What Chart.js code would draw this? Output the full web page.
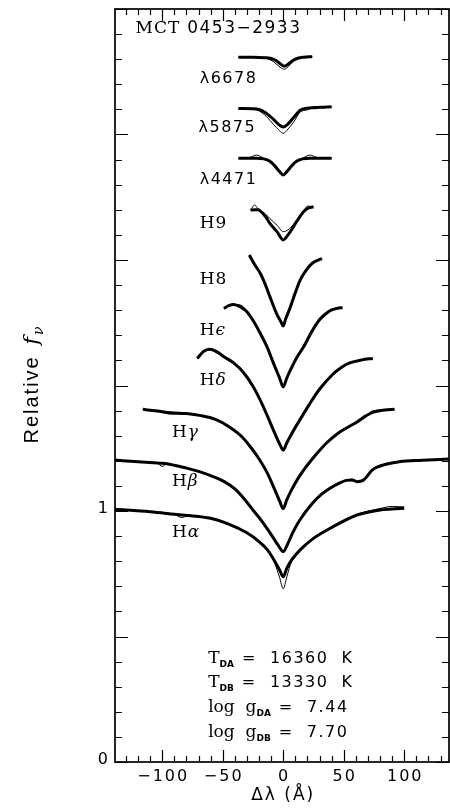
<!DOCTYPE html>
<html lang="en">
<head>
  <meta charset="utf-8">
  <title>MCT 0453-2933 line profiles</title>
  <script src="https://cdn.jsdelivr.net/npm/chart.js@4.4.0/dist/chart.umd.min.js"></script>
  <style>
    body { margin: 0; background: #fff; }
  </style>
</head>
<body>
<canvas id="myChart" width="450" height="808"></canvas>
<script>
// delta lambda (A) and relative flux (already shifted)
// fit = thick smooth model, obs = thin observed spectrum
var haX   = [-139, -110, -90, -84, -78, -60, -45, -30, -20, -13, -7, -3, 0, 3, 7, 14, 25, 41, 61, 80, 90, 100];
var haFit = [1.007, 0.997, 0.987, 0.984, 0.982, 0.971, 0.948, 0.913, 0.878, 0.845, 0.800, 0.765, 0.738, 0.772, 0.805, 0.845, 0.891, 0.937, 0.984, 1.004, 1.008, 1.011];
var haObs = [1.007, 0.997, 0.987, 0.974, 0.982, 0.971, 0.950, 0.913, 0.880, 0.845, 0.792, 0.735, 0.690, 0.738, 0.800, 0.845, 0.893, 0.937, 0.986, 1.010, 1.018, 1.016];

var hbX   = [-139, -120, -104, -100, -96, -90, -79, -68, -58, -48, -40, -32, -25, -18, -13, -8, -4, 0, 4, 8, 14, 24, 32, 39, 46, 52, 57, 61, 66, 74, 85, 96, 115, 137];
var hbFit = [1.203, 1.196, 1.191, 1.190, 1.188, 1.182, 1.170, 1.155, 1.137, 1.115, 1.088, 1.047, 1.004, 0.962, 0.928, 0.892, 0.862, 0.838, 0.872, 0.915, 0.966, 1.030, 1.068, 1.092, 1.110, 1.122, 1.124, 1.117, 1.122, 1.165, 1.186, 1.196, 1.202, 1.207];
var hbObs = [1.203, 1.196, 1.191, 1.178, 1.188, 1.184, 1.170, 1.155, 1.137, 1.117, 1.088, 1.047, 1.004, 0.962, 0.928, 0.889, 0.860, 0.835, 0.872, 0.915, 0.968, 1.030, 1.068, 1.095, 1.110, 1.122, 1.127, 1.114, 1.122, 1.167, 1.188, 1.198, 1.204, 1.207];

var hgX   = [-116, -104, -93, -80, -68, -56, -45, -38, -33, -27, -21, -13, -7, -3, 0, 3, 7, 12, 16, 22, 28, 36, 44, 52, 61, 68, 74, 84, 92];
var hgFit = [1.405, 1.398, 1.391, 1.388, 1.380, 1.365, 1.337, 1.312, 1.290, 1.255, 1.215, 1.150, 1.085, 1.040, 1.010, 1.045, 1.085, 1.128, 1.157, 1.195, 1.230, 1.272, 1.305, 1.330, 1.355, 1.378, 1.393, 1.402, 1.405];
var hgObs = [1.405, 1.398, 1.386, 1.388, 1.380, 1.365, 1.332, 1.312, 1.290, 1.255, 1.215, 1.150, 1.085, 1.038, 1.006, 1.045, 1.085, 1.128, 1.157, 1.195, 1.232, 1.272, 1.305, 1.330, 1.355, 1.378, 1.399, 1.403, 1.405];

var hdX   = [-71, -66, -61, -55, -49, -41, -33, -25, -19, -13, -7, -3, 0, 3, 7, 15, 22, 30, 41, 48, 55, 65, 74];
var hdFit = [1.608, 1.635, 1.644, 1.635, 1.615, 1.590, 1.553, 1.497, 1.442, 1.378, 1.310, 1.268, 1.243, 1.272, 1.308, 1.373, 1.428, 1.485, 1.545, 1.572, 1.590, 1.602, 1.608];
var hdObs = [1.608, 1.638, 1.644, 1.630, 1.615, 1.590, 1.553, 1.497, 1.442, 1.378, 1.308, 1.264, 1.238, 1.268, 1.308, 1.373, 1.428, 1.492, 1.540, 1.574, 1.590, 1.603, 1.608];

var heX   = [-49, -45, -41, -35, -30, -25, -19, -13, -8, -3, 0, 3, 6, 11, 17, 23, 30, 35, 40, 45, 49];
var heFit = [1.807, 1.818, 1.823, 1.812, 1.794, 1.760, 1.708, 1.650, 1.588, 1.530, 1.495, 1.530, 1.562, 1.610, 1.655, 1.710, 1.762, 1.785, 1.801, 1.808, 1.810];
var heObs = [1.807, 1.818, 1.823, 1.820, 1.798, 1.760, 1.708, 1.650, 1.588, 1.528, 1.490, 1.528, 1.562, 1.610, 1.650, 1.702, 1.766, 1.788, 1.798, 1.810, 1.810];

var h8X   = [-28, -24, -19, -15, -11, -5, -2, 0, 2, 6, 10, 14, 19, 24, 32];
var h8Fit = [2.020, 1.985, 1.947, 1.905, 1.854, 1.781, 1.755, 1.737, 1.765, 1.814, 1.870, 1.920, 1.960, 1.987, 2.006];
var h8Obs = [2.020, 1.985, 1.947, 1.905, 1.854, 1.781, 1.755, 1.737, 1.765, 1.814, 1.870, 1.920, 1.962, 1.990, 2.006];

var h9X   = [-27, -23.5, -21, -15, -11, -5, 0, 4, 8.5, 12, 17, 20, 25];
var h9Fit = [2.199, 2.200, 2.200, 2.175, 2.146, 2.112, 2.080, 2.100, 2.133, 2.160, 2.193, 2.205, 2.212];
var h9Obs = [2.199, 2.219, 2.205, 2.185, 2.165, 2.138, 2.113, 2.120, 2.142, 2.165, 2.196, 2.215, 2.212];

var l4X   = [-37, -28, -22, -16, -11, -7, -3, 0, 3, 7, 11, 16, 22, 28, 40];
var l4Fit = [2.405, 2.405, 2.405, 2.403, 2.393, 2.375, 2.352, 2.339, 2.352, 2.375, 2.393, 2.403, 2.405, 2.405, 2.405];
var l4Obs = [2.405, 2.408, 2.418, 2.405, 2.393, 2.372, 2.350, 2.337, 2.350, 2.373, 2.393, 2.405, 2.418, 2.408, 2.405];

var l5X   = [-37, -25, -20, -14, -8, -3, 0, 4, 9, 14, 20, 26, 33, 40];
var l5Fit = [2.604, 2.603, 2.600, 2.585, 2.560, 2.537, 2.530, 2.542, 2.570, 2.597, 2.605, 2.607, 2.609, 2.611];
var l5Obs = [2.604, 2.600, 2.594, 2.572, 2.540, 2.515, 2.505, 2.522, 2.552, 2.590, 2.598, 2.612, 2.606, 2.611];

var l6X   = [-37, -25, -15, -10, -6, -2, 1, 4, 8, 12, 17, 24];
var l6Fit = [2.808, 2.808, 2.806, 2.803, 2.795, 2.780, 2.772, 2.780, 2.795, 2.804, 2.808, 2.810];
var l6Obs = [2.808, 2.808, 2.804, 2.796, 2.782, 2.766, 2.760, 2.770, 2.790, 2.803, 2.808, 2.810];

var lineNames = ['λ6678', 'λ5875', 'λ4471', 'H9', 'H8', 'Hϵ', 'Hδ', 'Hγ', 'Hβ', 'Hα'];
var xTickLabels = [-100, -50, 0, 50, 100];
var yTickLabels = [0, 1];

var profiles = [
  [l6X, l6Fit, l6Obs], [l5X, l5Fit, l5Obs], [l4X, l4Fit, l4Obs],
  [h9X, h9Fit, h9Obs], [h8X, h8Fit, h8Obs], [heX, heFit, heObs],
  [hdX, hdFit, hdObs], [hgX, hgFit, hgObs], [hbX, hbFit, hbObs],
  [haX, haFit, haObs]
];

function pts(xs, ys) {
  return xs.map(function (x, i) { return {x: x, y: ys[i]}; });
}

var datasets = [];
profiles.forEach(function (p, i) {
  datasets.push({label: lineNames[i] + ' fit', data: pts(p[0], p[1]), borderWidth: 3});
  datasets.push({label: lineNames[i] + ' obs', data: pts(p[0], p[2]), borderWidth: 1});
});
datasets.forEach(function (d) {
  d.showLine = true;
  d.pointRadius = 0;
  d.borderColor = '#000';
  d.cubicInterpolationMode = 'monotone';
  d.fill = false;
});

// draws rich text pieces one after another
function rich(ctx, x, y, parts) {
  parts.forEach(function (p) {
    ctx.font = p.f;
    ctx.letterSpacing = (p.ls || 0) + 'px';
    ctx.fillText(p.t, x + (p.dx || 0), y + (p.dy || 0));
    x += (p.dx || 0) + ctx.measureText(p.t).width;
  });
  return x;
}
function richWidth(ctx, parts) {
  var w = 0;
  parts.forEach(function (p) {
    ctx.font = p.f;
    ctx.letterSpacing = (p.ls || 0) + 'px';
    w += (p.dx || 0) + ctx.measureText(p.t).width;
  });
  return w;
}

var SERIF = '"DejaVu Serif", serif';
var SANS = '"DejaVu Sans", sans-serif';

// label anchor per line, in data coordinates (left, baseline)
var labelAt = [[-69, 2.705], [-70, 2.511], [-69, 2.303], [-69, 2.126], [-69, 1.903],
               [-69, 1.701], [-69, 1.502], [-92, 1.296], [-92, 1.100], [-92, 0.898]];

var frame = {
  id: 'frame',
  afterDatasetsDraw: function (chart) {
    var ctx = chart.ctx, a = chart.chartArea, x = chart.scales.x, y = chart.scales.y;
    ctx.save();
    ctx.strokeStyle = '#000';
    ctx.fillStyle = '#000';
    ctx.lineWidth = 1.7;
    ctx.strokeRect(a.left, a.top, a.right - a.left, a.bottom - a.top);
    ctx.lineWidth = 1.2;
    ctx.beginPath();
    for (var v = Math.ceil(x.min / 10) * 10; v <= x.max; v += 10) {
      var px = Math.round(x.getPixelForValue(v)) + 0.5;
      var len = v % 50 === 0 ? 12 : 6;
      ctx.moveTo(px, a.bottom); ctx.lineTo(px, a.bottom - len);
      ctx.moveTo(px, a.top); ctx.lineTo(px, a.top + len);
    }
    for (var i = 0; i <= 30; i++) {
      var py = Math.round(y.getPixelForValue(i / 10)) + 0.5;
      var l2 = i % 5 === 0 ? 13 : 7;
      ctx.moveTo(a.left, py); ctx.lineTo(a.left + l2, py);
      ctx.moveTo(a.right, py); ctx.lineTo(a.right - l2, py);
    }
    ctx.stroke();

    // tick labels
    ctx.textAlign = 'left';
    ctx.textBaseline = 'alphabetic';
    xTickLabels.forEach(function (t) {
      var s = (t < 0 ? '\u2212' : '') + Math.abs(t);
      var parts = [{t: s, f: '16px ' + SANS, ls: 2}];
      var w = richWidth(ctx, parts) - 2;
      rich(ctx, x.getPixelForValue(t) - w / 2, a.bottom + 19, parts);
    });
    yTickLabels.forEach(function (t) {
      var parts = [{t: String(t), f: '16px ' + SANS}];
      var w = richWidth(ctx, parts);
      rich(ctx, a.left - 7 - w, y.getPixelForValue(t) + 2, parts);
    });

    // axis titles
    var xt = [{t: 'Δλ', f: '17px ' + SANS, ls: 2}, {t: ' (Å)', f: '17px ' + SANS, ls: 2}];
    rich(ctx, x.getPixelForValue(0) - richWidth(ctx, xt) / 2, a.bottom + 38, xt);

    var yt = [{t: 'Relative ', f: '20px "Liberation Sans", sans-serif', ls: 2},
              {t: 'f', f: 'italic 21px ' + SERIF, dx: 3},
              {t: 'ν', f: 'italic 14px ' + SERIF, dy: 5, dx: 2}];
    ctx.save();
    ctx.translate(38, 385);
    ctx.rotate(-Math.PI / 2);
    rich(ctx, -richWidth(ctx, yt) / 2, 0, yt);
    ctx.restore();

    // star name
    rich(ctx, x.getPixelForValue(-122), y.getPixelForValue(0) - 729, [
      {t: 'MCT', f: '17px ' + SERIF, ls: 1},
      {t: ' 0453\u22122933', f: '17px ' + SANS, ls: 1.5}
    ]);

    // line labels
    lineNames.forEach(function (n, k) {
      var lx = x.getPixelForValue(labelAt[k][0]);
      var ly = y.getPixelForValue(labelAt[k][1]);
      var parts = n.charAt(0) === 'λ'
        ? [{t: n, f: '16px ' + SANS, ls: 1.5}]
        : [{t: 'H', f: '17px ' + SERIF}, {t: n.slice(1), f: (/\d/.test(n) ? '' : 'italic ') + '17px ' + SERIF, dx: 1}];
      rich(ctx, lx, ly, parts);
    });

    // fit parameters
    var sub = 'bold 9px ' + SANS;
    var big = '16px ' + SANS;
    var tx = x.getPixelForValue(-62);
    var rows = [
      [{t: 'T', f: '17px ' + SERIF}, {t: 'DA', f: sub, dy: 4}, {t: '=  16360  K', f: big, ls: 1.5, dx: 8}],
      [{t: 'T', f: '17px ' + SERIF}, {t: 'DB', f: sub, dy: 4}, {t: '=  13330  K', f: big, ls: 1.5, dx: 8}],
      [{t: 'log  g', f: '17px ' + SERIF}, {t: 'DA', f: sub, dy: 4}, {t: '=  7.44', f: big, ls: 1.5, dx: 8}],
      [{t: 'log  g', f: '17px ' + SERIF}, {t: 'DB', f: sub, dy: 4}, {t: '=  7.70', f: big, ls: 1.5, dx: 8}]
    ];
    var ty = [663, 687, 712, 737];
    rows.forEach(function (r, k) { rich(ctx, tx, ty[k], r); });
    ctx.restore();
  }
};

var ctx = document.getElementById('myChart').getContext('2d');
var chart = new Chart(ctx, {
  type: 'scatter',
  data: {datasets: datasets},
  options: {
    responsive: false,
    animation: false,
    devicePixelRatio: 1,
    layout: {padding: {top: 9, right: 1, left: 0, bottom: 0}},
    plugins: {legend: {display: false}, tooltip: {enabled: false}},
    scales: {
      x: {
        type: 'linear', min: -139, max: 137,
        ticks: {display: false}, grid: {display: false}, border: {display: false},
        afterFit: function (s) { s.height = 46; }
      },
      y: {
        type: 'linear', min: 0, max: 3,
        ticks: {display: false}, grid: {display: false}, border: {display: false},
        afterFit: function (s) { s.width = 115; }
      }
    }
  },
  plugins: [frame]
});
</script>
</body>
</html>
